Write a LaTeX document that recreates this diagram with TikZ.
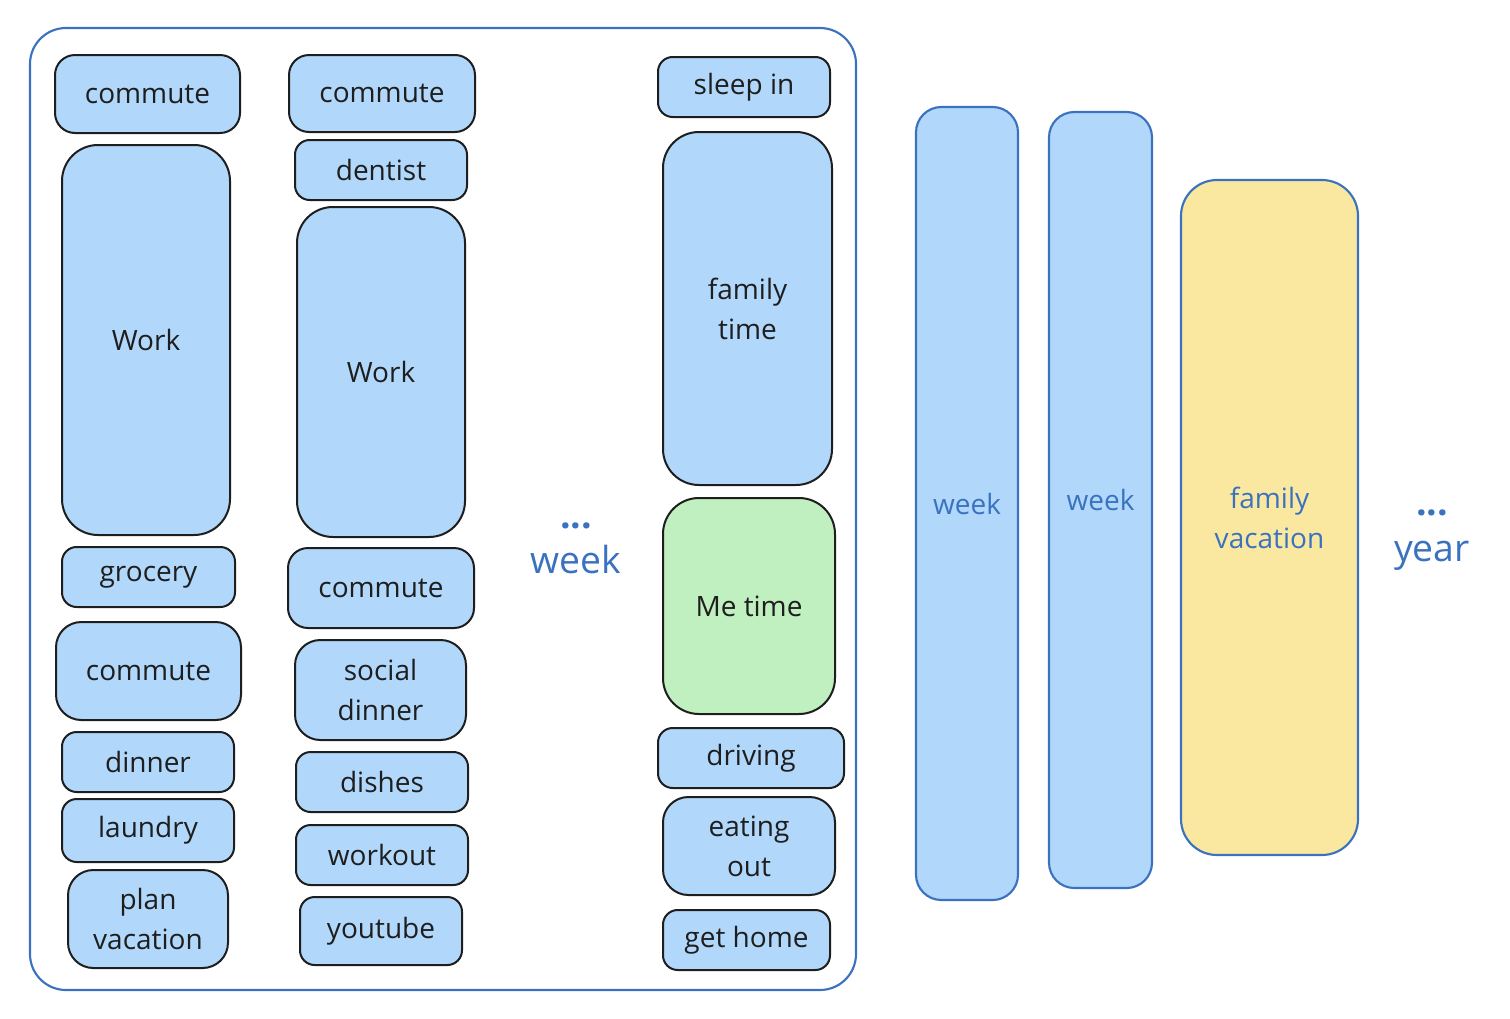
\documentclass[tikz,border=0pt]{standalone}
\usepackage{fontspec}
\setmainfont{Open Sans}
\definecolor{fillblue}{HTML}{B1D8FB}
\definecolor{fillgreen}{HTML}{C0F0C0}
\definecolor{fillyellow}{HTML}{FAE8A0}
\definecolor{strokeblue}{HTML}{3A72C0}
\definecolor{ink}{HTML}{1E1E1E}
\tikzset{
  task/.style={draw=ink, line width=1.5pt, fill=fillblue, text=ink, inner sep=0pt,
    align=center, font=\fontsize{21}{30}\selectfont},
  metime/.style={task, fill=fillgreen},
  period/.style={draw=strokeblue, line width=1.6pt, fill=fillblue, text=strokeblue,
    inner sep=0pt, align=center, font=\fontsize{21}{30}\selectfont},
  vac/.style={period, fill=fillyellow},
  frame/.style={draw=strokeblue, line width=1.6pt, inner sep=0pt},
  bigtxt/.style={text=strokeblue, inner sep=0pt, align=center, font=\fontsize{28}{34}\selectfont},
  r15/.style={rounded corners=11pt},
  r20/.style={rounded corners=15pt},
  r25/.style={rounded corners=19pt},
  r36/.style={rounded corners=27pt},
}
% \tbox{style}{name}{x1}{y1}{x2}{y2}{text}  (coordinates in reference pixels)
\newcommand\tbox[7]{%
  \node[#1, minimum width={(#5-#3)*0.75pt}, minimum height={(#6-#4)*0.75pt}]
    (#2) at ({(#3+#5)/2},{(#4+#6)/2}) {#7};}
\begin{document}
\begin{tikzpicture}[x=0.75pt,y=-0.75pt]
\useasboundingbox (0,0) rectangle (1510,1018);
% week frame
\tbox{frame, r36}{weekframe}{30}{28}{856}{990}{}
% column 1
\tbox{task, r20}{c1commute}{55}{55}{240}{133}{commute}
\tbox{task, r36}{c1work}{62}{145}{230}{535}{Work}
\tbox{task, r15}{c1grocery}{62}{547}{235}{607}{grocery}
\tbox{task, r25}{c1commute2}{56}{622}{241}{720}{commute}
\tbox{task, r15}{c1dinner}{62}{732}{234}{792}{dinner}
\tbox{task, r15}{c1laundry}{62}{799}{234}{862}{laundry}
\tbox{task, r25}{c1plan}{68}{870}{228}{968}{plan\\vacation}
% column 2
\tbox{task, r20}{c2commute}{289}{55}{475}{132}{commute}
\tbox{task, r15}{c2dentist}{295}{140}{467}{200}{dentist}
\tbox{task, r36}{c2work}{297}{207}{465}{537}{Work}
\tbox{task, r20}{c2commute2}{288}{548}{474}{628}{commute}
\tbox{task, r25}{c2social}{295}{640}{466}{740}{social\\dinner}
\tbox{task, r15}{c2dishes}{296}{752}{468}{812}{dishes}
\tbox{task, r15}{c2workout}{296}{825}{468}{885}{workout}
\tbox{task, r15}{c2youtube}{300}{897}{462}{965}{youtube}
% middle
\node[bigtxt] (midweek) at (576,548) {{\bfseries ...}\\week};
% column 3
\tbox{task, r15}{c3sleep}{658}{57}{830}{117}{sleep in}
\tbox{task, r36}{c3family}{663}{132}{832}{485}{family\\time}
\tbox{metime, r36}{c3me}{663}{498}{835}{714}{Me time}
\tbox{task, r15}{c3driving}{658}{728}{844}{788}{driving}
\tbox{task, r25}{c3eating}{663}{797}{835}{895}{eating\\out}
\tbox{task, r15}{c3home}{663}{910}{830}{970}{get home}
% weeks
\tbox{period, r25}{week2}{916}{107}{1018}{900}{week}
\tbox{period, r25}{week3}{1049}{112}{1152}{888}{week}
\tbox{vac, r36}{vacation}{1181}{180}{1358}{855}{family\\vacation}
\node[bigtxt] (year) at (1432,540) {{\bfseries ...}\\year};
\end{tikzpicture}
\end{document}
